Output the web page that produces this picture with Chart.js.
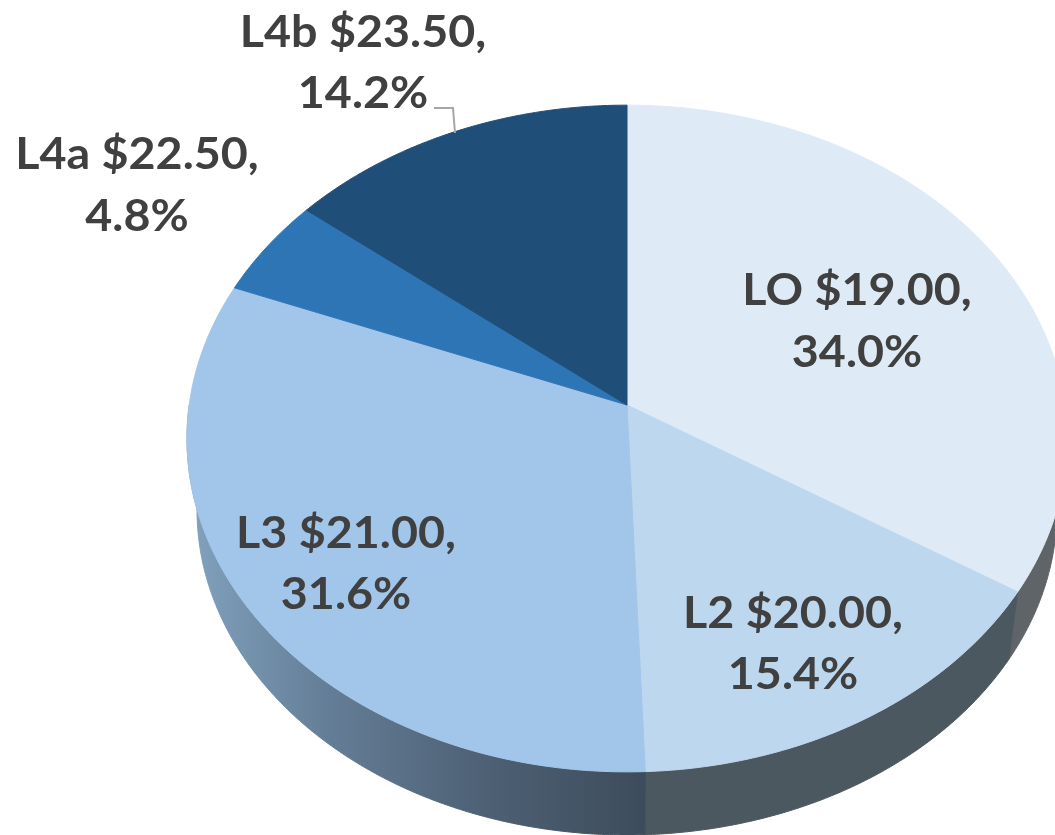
<!DOCTYPE html>
<html>
<head>
<meta charset="utf-8">
<title>Pie</title>
<style>
  html, body { margin: 0; padding: 0; background: #fff; overflow: hidden; }
</style>
<script src="https://cdn.jsdelivr.net/npm/chart.js@4/dist/chart.umd.js"></script>
</head>
<body>
<canvas id="pie" width="1055" height="835" style="display:block"></canvas>
<script>
const categories = ['LO', 'L2', 'L3', 'L4a', 'L4b'];
const prices = ['$19.00', '$20.00', '$21.00', '$22.50', '$23.50'];
const shares = [34.0, 15.4, 31.6, 4.8, 14.2];
const faceColors = ['#deebf7', '#bdd7ee', '#a1c6ea', '#2e75b6', '#1f4e79'];

// where each label goes: center x, baseline of line 1, baseline of line 2
const labelSpots = [[857, 305, 367], [793, 628, 689], [346, 548, 609], [137, 169, 231], [363, 47, 108]];

// perspective of the tilted disc, p = how much the near side grows
const p = 0.1005;
const topRim = { x: 627, y: 405, a: 437.8, q: 330 };
const bottomRim = { x: 627, y: 477.3, a: 427.8, q: 321.7 };

function project(rim, angle) {
  const u = Math.cos(angle), v = Math.sin(angle), d = 1 - p * v;
  return [rim.x + rim.a * u / d, rim.y + rim.q * v / d];
}

function rimPoints(rim, from, to) {
  const pts = [];
  const steps = Math.max(2, Math.ceil((to - from) * 120));
  for (let i = 0; i <= steps; i++) {
    pts.push(project(rim, from + (to - from) * i / steps));
  }
  return pts;
}

function sideColor(ctx, i) {
  if (i === 2) {
    const g = ctx.createLinearGradient(195, 0, 645, 0);
    g.addColorStop(0, '#80a0bc');
    g.addColorStop(0.3, '#647d96');
    g.addColorStop(0.65, '#4d6074');
    g.addColorStop(1, '#3d4c5c');
    return g;
  }
  if (i === 1) return '#4c5860';
  if (i === 0) return '#5f6468';
  return '#3d4c5c';
}

function fillPoly(ctx, pts, color) {
  ctx.beginPath();
  pts.forEach((pt, i) => i ? ctx.lineTo(pt[0], pt[1]) : ctx.moveTo(pt[0], pt[1]));
  ctx.closePath();
  ctx.fillStyle = color;
  ctx.strokeStyle = color;
  ctx.lineWidth = 1;
  ctx.fill();
  ctx.stroke();
}

const pie3d = {
  id: 'pie3d',
  // the library works out the angles, here they only get bent into the tilted disc
  beforeDatasetsDraw(chart) {
    const ctx = chart.ctx;
    const arcs = chart.getDatasetMeta(0).data;
    ctx.save();
    arcs.forEach((a, i) => {
      // only the near half has a visible wall
      const from = Math.max(a.startAngle, 0), to = Math.min(a.endAngle, Math.PI);
      if (from >= to) return;
      const wall = rimPoints(topRim, from, to).concat(rimPoints(bottomRim, from, to).reverse());
      fillPoly(ctx, wall, sideColor(ctx, i));
    });
    arcs.forEach((a, i) => {
      fillPoly(ctx, [[topRim.x, topRim.y]].concat(rimPoints(topRim, a.startAngle, a.endAngle)), faceColors[i]);
    });
    ctx.restore();
    return false;
  },
  afterDraw(chart) {
    const ctx = chart.ctx;
    ctx.save();
    // leader line of L4b
    ctx.strokeStyle = '#a6a6a6';
    ctx.lineWidth = 2;
    ctx.beginPath();
    ctx.moveTo(434, 108);
    ctx.lineTo(453, 108);
    ctx.lineTo(455, 133);
    ctx.stroke();

    ctx.font = 'bold 44px Lato';
    ctx.fillStyle = '#404040';
    ctx.textAlign = 'center';
    categories.forEach((c, i) => {
      const s = labelSpots[i];
      ctx.save();
      ctx.translate(s[0], 0);
      ctx.scale(1.06, 1);   // the original face runs wider than Lato
      ctx.fillText(c + ' ' + prices[i] + ',', 0, s[1]);
      ctx.fillText(shares[i].toFixed(1) + '%', 0, s[2]);
      ctx.restore();
    });
    ctx.restore();
  }
};

new Chart(document.getElementById('pie'), {
  type: 'pie',
  data: {
    labels: categories,
    datasets: [{ data: shares, backgroundColor: faceColors, borderWidth: 0 }]
  },
  options: {
    responsive: false,
    animation: false,
    plugins: { legend: { display: false }, tooltip: { enabled: false } }
  },
  plugins: [pie3d]
});
</script>
</body>
</html>
